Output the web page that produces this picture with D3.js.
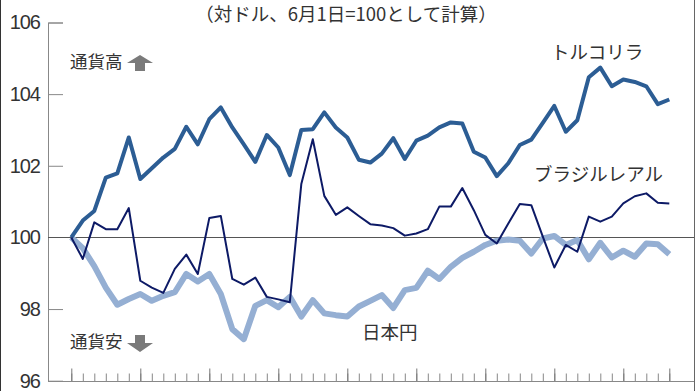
<!DOCTYPE html>
<html>
<head>
<meta charset="utf-8">
<script src="https://cdn.jsdelivr.net/npm/d3@7"></script>
<style>
  html, body { margin: 0; padding: 0; background: #fff; }
  svg { display: block; }
  .jp { font-family: "Noto Sans CJK JP", "Noto Sans", sans-serif; fill: #333; }
  .num { font-family: "Liberation Sans", Arial, sans-serif; fill: #333; }
</style>
</head>
<body>
<svg id="chart" width="696" height="391"></svg>
<script>
// Index values vs USD, June 1 = 100 (one point per trading day)
const tryValues = [100, 100.47, 100.74, 101.67, 101.79, 102.79, 101.63, 101.93, 102.23, 102.47,
  103.09, 102.60, 103.30, 103.63, 103.07, 102.60, 102.11, 102.86, 102.51, 101.74,
  103.00, 103.02, 103.49, 103.07, 102.79, 102.17, 102.09, 102.34, 102.77, 102.19,
  102.70, 102.84, 103.07, 103.21, 103.18, 102.39, 102.23, 101.71, 102.07, 102.58,
  102.73, 103.20, 103.67, 102.95, 103.27, 104.47, 104.74, 104.22, 104.41, 104.34,
  104.22, 103.72, 103.85];
const brlValues = [100, 99.40, 100.42, 100.23, 100.23, 100.82, 98.79, 98.60, 98.45, 99.12,
  99.52, 98.98, 100.54, 100.60, 98.84, 98.68, 98.88, 98.34, 98.27, 98.19,
  101.49, 102.74, 101.16, 100.63, 100.84, 100.60, 100.37, 100.33, 100.26, 100.05,
  100.11, 100.23, 100.86, 100.86, 101.38, 100.76, 100.07, 99.83, 100.39, 100.93,
  100.90, 100.02, 99.16, 99.79, 99.60, 100.58, 100.44, 100.58, 100.95, 101.15,
  101.23, 100.97, 100.95];
const jpyValues = [100, 99.70, 99.20, 98.60, 98.12, 98.28, 98.42, 98.23, 98.37, 98.47,
  98.98, 98.77, 98.98, 98.42, 97.44, 97.16, 98.09, 98.25, 98.05, 98.34,
  97.79, 98.25, 97.88, 97.83, 97.79, 98.07, 98.23, 98.39, 98.03, 98.53,
  98.59, 99.07, 98.84, 99.18, 99.43, 99.60, 99.79, 99.91, 99.94, 99.91,
  99.55, 99.97, 100.04, 99.79, 99.93, 99.39, 99.85, 99.44, 99.63, 99.46,
  99.83, 99.81, 99.53];
const yTicks = [96, 98, 100, 102, 104, 106];
const majorTicks = [0, 6, 12, 18, 24, 30, 36, 42, 48, 52];

const svg = d3.select('#chart');

const x = d3.scaleLinear().domain([0, 52]).range([71.3, 669.3]);
const y = d3.scaleLinear().domain([96, 106]).range([380.7, 22.5]);
const axisLeftX = 48, rightX = 694;

// frame edges
svg.append('line').attr('x1', 0.5).attr('x2', 0.5).attr('y1', 0).attr('y2', 391)
  .attr('stroke', '#333').attr('stroke-width', 1);
svg.append('line').attr('x1', rightX + 0.5).attr('x2', rightX + 0.5).attr('y1', 0).attr('y2', 391)
  .attr('stroke', '#666').attr('stroke-width', 1);

// y axis: ticks inward, labels left
const yAxis = svg.append('g')
  .attr('transform', `translate(${axisLeftX},0)`)
  .call(d3.axisLeft(y).tickValues(yTicks).tickSize(-15).tickPadding(8));
yAxis.select('.domain').attr('stroke', '#888');
yAxis.selectAll('.tick line').attr('stroke', '#888');
yAxis.selectAll('.tick text')
  .attr('class', 'num')
  .attr('font-size', 20)
  .attr('letter-spacing', -1)
  .attr('fill', '#333');
yAxis.selectAll('.tick').filter(d => d === 96 || d === 100).select('line').remove();

// baseline 100
svg.append('line')
  .attr('x1', axisLeftX).attr('x2', rightX)
  .attr('y1', Math.round(y(100)) + 0.5).attr('y2', Math.round(y(100)) + 0.5)
  .attr('stroke', '#555').attr('stroke-width', 1);

// x axis: minor + major ticks pointing up, no labels
const xBase = Math.round(y(96)) + 0.5;
const idx = d3.range(0, 53);
const minorAxis = svg.append('g')
  .attr('transform', `translate(0,${xBase})`)
  .call(d3.axisBottom(x).tickValues(idx).tickSize(-8).tickFormat(''));
minorAxis.select('.domain').remove();
minorAxis.selectAll('.tick line').attr('stroke', '#888');
const majorAxis = svg.append('g')
  .attr('transform', `translate(0,${xBase})`)
  .call(d3.axisBottom(x).tickValues(majorTicks).tickSize(-13).tickFormat(''));
majorAxis.select('.domain').remove();
majorAxis.selectAll('.tick line').attr('stroke', '#777');
svg.append('line')
  .attr('x1', axisLeftX).attr('x2', rightX)
  .attr('y1', xBase).attr('y2', xBase)
  .attr('stroke', '#888');

// series
const line = d3.line().x((d, i) => x(i)).y(d => y(d));
const series = [
  { values: jpyValues, color: '#95afd3', width: 6 },
  { values: tryValues, color: '#2c5d94', width: 4 },
  { values: brlValues, color: '#0d1a66', width: 2 },
];
svg.append('g').selectAll('path')
  .data(series)
  .enter()
  .append('path')
  .attr('d', d => line(d.values))
  .attr('fill', 'none')
  .attr('stroke', d => d.color)
  .attr('stroke-width', d => d.width)
  .attr('stroke-linejoin', 'round');

// labels
svg.append('text').attr('class', 'jp')
  .attr('x', 346).attr('y', 21).attr('text-anchor', 'middle')
  .attr('font-size', 18.5)
  .text('（対ドル、6月1日=100として計算）');
svg.append('text').attr('class', 'jp').attr('x', 551).attr('y', 59).attr('font-size', 18.5).text('トルコリラ');
svg.append('text').attr('class', 'jp').attr('x', 534).attr('y', 181).attr('font-size', 18.5).text('ブラジルレアル');
svg.append('text').attr('class', 'jp').attr('x', 362).attr('y', 339).attr('font-size', 18.5).text('日本円');

svg.append('text').attr('class', 'jp').attr('x', 70).attr('y', 68).attr('font-size', 17.5).text('通貨高');
svg.append('text').attr('class', 'jp').attr('x', 70).attr('y', 348).attr('font-size', 17.5).text('通貨安');

// arrows
const arrowUp = [[140, 55], [153, 63], [145, 63], [145, 71], [135, 71], [135, 63], [127, 63]];
const arrowDown = [[135, 335], [145, 335], [145, 343], [153, 343], [140, 352], [127, 343], [135, 343]];
[arrowUp, arrowDown].forEach(pts => {
  svg.append('polygon')
    .attr('points', pts.map(p => p.join(',')).join(' '))
    .attr('fill', '#7a7a7a');
});
</script>
</body>
</html>
